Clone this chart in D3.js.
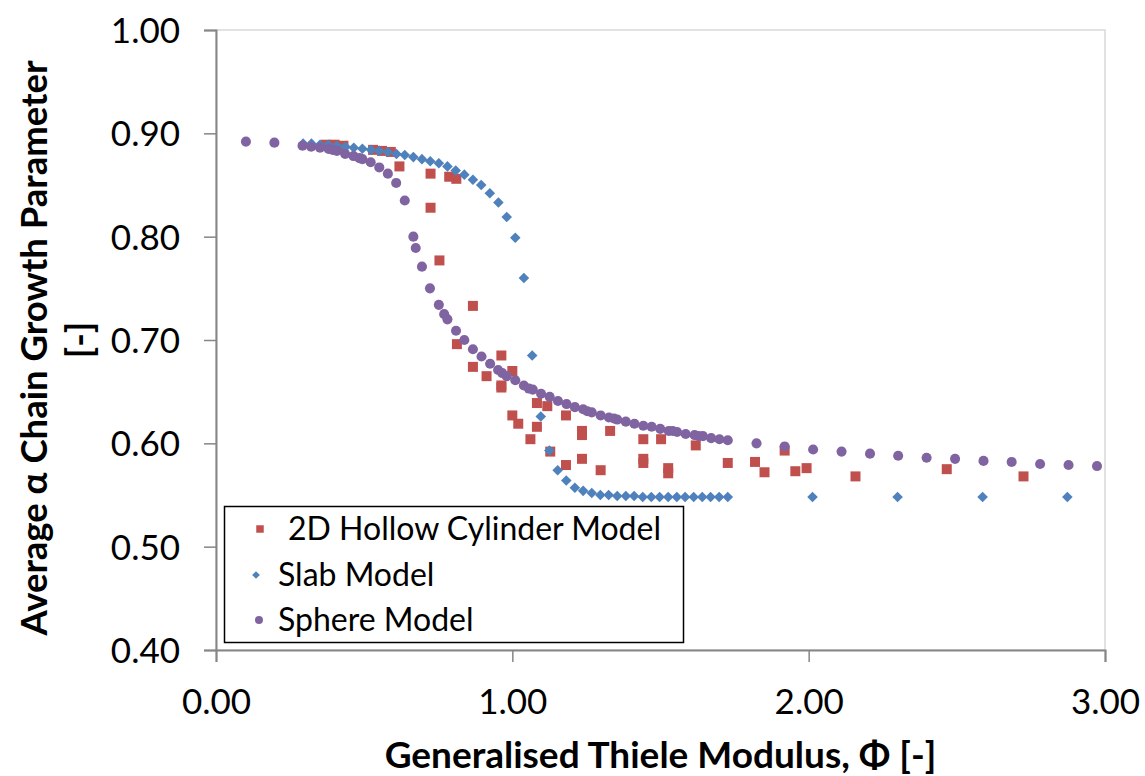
<!DOCTYPE html>
<html>
<head>
<meta charset="utf-8">
<script src="https://cdn.jsdelivr.net/npm/d3@7"></script>
<style>
  body { margin: 0; background: #fff; }
  svg { display: block; font-family: Lato, "Open Sans", sans-serif; }
</style>
</head>
<body>
<div id="chart"></div>
<script>
// data
var seriesNames = ["2D Hollow Cylinder Model", "Slab Model", "Sphere Model"];

var hollowPhi = [0.37, 0.40, 0.43, 0.53, 0.56, 0.59, 0.619, 0.724, 0.787, 0.811, 0.724, 0.754,
  0.867, 0.813, 0.963, 0.867, 1.000, 0.913, 0.963, 0.963,
  1.083, 1.118, 1.181, 1.000, 1.020, 1.083, 1.061, 1.128,
  1.235, 1.235, 1.330, 1.235, 1.181, 1.298,
  1.442, 1.502, 1.442, 1.442, 1.526, 1.526, 1.619, 1.727,
  1.819, 1.851, 1.919, 1.955, 1.993, 2.158, 2.466, 2.725];
var hollowAlpha = [0.889, 0.889, 0.888, 0.884, 0.883, 0.882, 0.868, 0.861, 0.858, 0.856, 0.828, 0.777,
  0.733, 0.696, 0.685, 0.674, 0.670, 0.665, 0.656, 0.654,
  0.639, 0.636, 0.627, 0.627, 0.619, 0.616, 0.604, 0.592,
  0.612, 0.608, 0.612, 0.585, 0.579, 0.574,
  0.604, 0.604, 0.585, 0.581, 0.576, 0.571, 0.598, 0.581,
  0.582, 0.572, 0.593, 0.573, 0.576, 0.568, 0.575, 0.568];

var slabPhi = [0.294, 0.322, 0.351, 0.379, 0.408, 0.437, 0.465, 0.494, 0.523, 0.551,
  0.580, 0.609, 0.637, 0.666, 0.695, 0.723, 0.752, 0.781, 0.809, 0.838,
  0.867, 0.895, 0.924, 0.953, 0.981, 1.010, 1.039, 1.067, 1.096, 1.125,
  1.153, 1.182, 1.211, 1.239, 1.268, 1.297, 1.325, 1.354, 1.383, 1.411,
  1.440, 1.469, 1.497, 1.526, 1.555, 1.583, 1.612, 1.641, 1.669, 1.698,
  1.727, 2.013, 2.300, 2.587, 2.873];
var slabAlpha = [0.890, 0.890, 0.889, 0.889, 0.888, 0.887, 0.886, 0.885, 0.884, 0.883,
  0.882, 0.880, 0.879, 0.877, 0.875, 0.873, 0.871, 0.868, 0.864, 0.860,
  0.855, 0.850, 0.842, 0.833, 0.819, 0.799, 0.760, 0.685, 0.626, 0.593,
  0.574, 0.564, 0.557, 0.554, 0.552, 0.550, 0.550, 0.549, 0.549, 0.549,
  0.548, 0.548, 0.548, 0.548, 0.548, 0.548, 0.548, 0.548, 0.548, 0.548,
  0.548, 0.548, 0.548, 0.548, 0.548];

var spherePhi = [0.101, 0.197, 0.292, 0.321, 0.351, 0.380, 0.394, 0.408, 0.436, 0.464,
  0.484, 0.494, 0.522, 0.551, 0.580, 0.608, 0.637, 0.666, 0.674, 0.695,
  0.722, 0.752, 0.770, 0.781, 0.810, 0.838, 0.867, 0.896, 0.925, 0.952,
  0.966, 0.981, 1.010, 1.039, 1.056, 1.069, 1.097, 1.126, 1.154, 1.183,
  1.211, 1.239, 1.253, 1.268, 1.298, 1.326, 1.343, 1.354, 1.383, 1.412,
  1.442, 1.470, 1.499, 1.528, 1.541, 1.556, 1.585, 1.615, 1.629, 1.643,
  1.671, 1.699, 1.727, 1.824, 1.919, 2.015, 2.111, 2.207, 2.302, 2.398,
  2.494, 2.590, 2.685, 2.781, 2.877, 2.973];
var sphereAlpha = [0.892, 0.891, 0.888, 0.887, 0.886, 0.885, 0.884, 0.883, 0.880, 0.878,
  0.876, 0.875, 0.872, 0.867, 0.861, 0.852, 0.835, 0.800, 0.789, 0.771,
  0.750, 0.734, 0.725, 0.720, 0.709, 0.700, 0.691, 0.684, 0.677, 0.671,
  0.668, 0.665, 0.661, 0.656, 0.653, 0.652, 0.648, 0.645, 0.641, 0.638,
  0.635, 0.633, 0.631, 0.630, 0.627, 0.625, 0.624, 0.623, 0.621, 0.619,
  0.617, 0.616, 0.614, 0.612, 0.612, 0.611, 0.609, 0.608, 0.607, 0.607,
  0.605, 0.604, 0.603, 0.600, 0.597, 0.594, 0.592, 0.590, 0.588, 0.586,
  0.585, 0.583, 0.582, 0.580, 0.579, 0.578];

var xTicks = [0, 1, 2, 3];
var yTicks = [0.4, 0.5, 0.6, 0.7, 0.8, 0.9, 1.0];

var colors = ["#C0504D", "#4F81BD", "#8064A2"];

// dimensions
var width = 1145, height = 776;
var plot = { left: 216, right: 1105, top: 30, bottom: 650 };

var svg = d3.select("#chart").append("svg")
  .attr("width", width)
  .attr("height", height);

var x = d3.scaleLinear().domain([0, 3]).range([plot.left, plot.right]);
var y = d3.scaleLinear().domain([0.4, 1.0]).range([plot.bottom, plot.top]);

// plot area border
svg.append("rect")
  .attr("x", plot.left).attr("y", plot.top)
  .attr("width", plot.right - plot.left)
  .attr("height", plot.bottom - plot.top)
  .attr("fill", "none")
  .attr("stroke", "#d9d9d9")
  .attr("stroke-width", 1.5);

// axes
var xAxis = svg.append("g")
  .attr("transform", "translate(0," + plot.bottom + ")")
  .call(d3.axisBottom(x).tickValues(xTicks).tickFormat(d3.format(".2f")).tickSize(12).tickPadding(27));
var yAxis = svg.append("g")
  .attr("transform", "translate(" + plot.left + ",0)")
  .call(d3.axisLeft(y).tickValues(yTicks).tickFormat(d3.format(".2f")).tickSize(12).tickPadding(24));

[xAxis, yAxis].forEach(function (g) {
  g.select(".domain").attr("stroke", "#868686").attr("stroke-width", 2);
  g.selectAll(".tick line").attr("stroke", "#868686").attr("stroke-width", 1.5);
  g.selectAll(".tick text")
    .attr("fill", "#000")
    .style("font-family", "Lato, sans-serif")
    .style("font-size", "35px");
});
yAxis.selectAll(".tick text").attr("dy", "0.36em");

// axis titles
svg.append("text")
  .attr("x", (plot.left + plot.right) / 2)
  .attr("y", 768)
  .attr("text-anchor", "middle")
  .style("font-weight", "bold")
  .style("font-size", "37px")
  .text("Generalised Thiele Modulus, Φ [-]");

var yTitle = svg.append("text")
  .attr("transform", "rotate(-90)")
  .attr("text-anchor", "middle")
  .style("font-weight", "bold")
  .style("font-size", "36.5px");
yTitle.append("tspan").attr("x", -348).attr("y", 47).text("Average α Chain Growth Parameter");
yTitle.append("tspan").attr("x", -340).attr("y", 92).text("[-]");

// markers
var symbols = [
  d3.symbol().type(d3.symbolSquare).size(100),
  d3.symbol().type(d3.symbolSquare).size(56),
  d3.symbol().type(d3.symbolCircle).size(80)
];
var rotations = [0, 45, 0];

var series = [
  d3.zip(hollowPhi, hollowAlpha),
  d3.zip(slabPhi, slabAlpha),
  d3.zip(spherePhi, sphereAlpha)
];

series.forEach(function (pts, i) {
  svg.append("g")
    .selectAll("path")
    .data(pts)
    .enter()
    .append("path")
    .attr("d", symbols[i])
    .attr("transform", function (d) {
      return "translate(" + x(d[0]) + "," + y(d[1]) + ") rotate(" + rotations[i] + ")";
    })
    .attr("fill", colors[i]);
});

// legend
var legend = svg.append("g");
legend.append("rect")
  .attr("x", 224.5).attr("y", 506.5)
  .attr("width", 459).attr("height", 136)
  .attr("fill", "#fff")
  .attr("stroke", "#000")
  .attr("stroke-width", 1.5);

var legendRows = [
  { mx: 260, my: 529, tx: 288, ty: 540, label: seriesNames[0], size: 56 },
  { mx: 256, my: 575, tx: 278, ty: 586, label: seriesNames[1], size: 30 },
  { mx: 259, my: 620, tx: 278, ty: 631, label: seriesNames[2], size: 50 }
];
legendRows.forEach(function (r, i) {
  legend.append("path")
    .attr("d", d3.symbol().type(i == 2 ? d3.symbolCircle : d3.symbolSquare).size(r.size))
    .attr("transform", "translate(" + r.mx + "," + r.my + ") rotate(" + rotations[i] + ")")
    .attr("fill", colors[i]);
  legend.append("text")
    .attr("x", r.tx).attr("y", r.ty)
    .style("font-size", "32px")
    .text(r.label);
});
</script>
</body>
</html>
